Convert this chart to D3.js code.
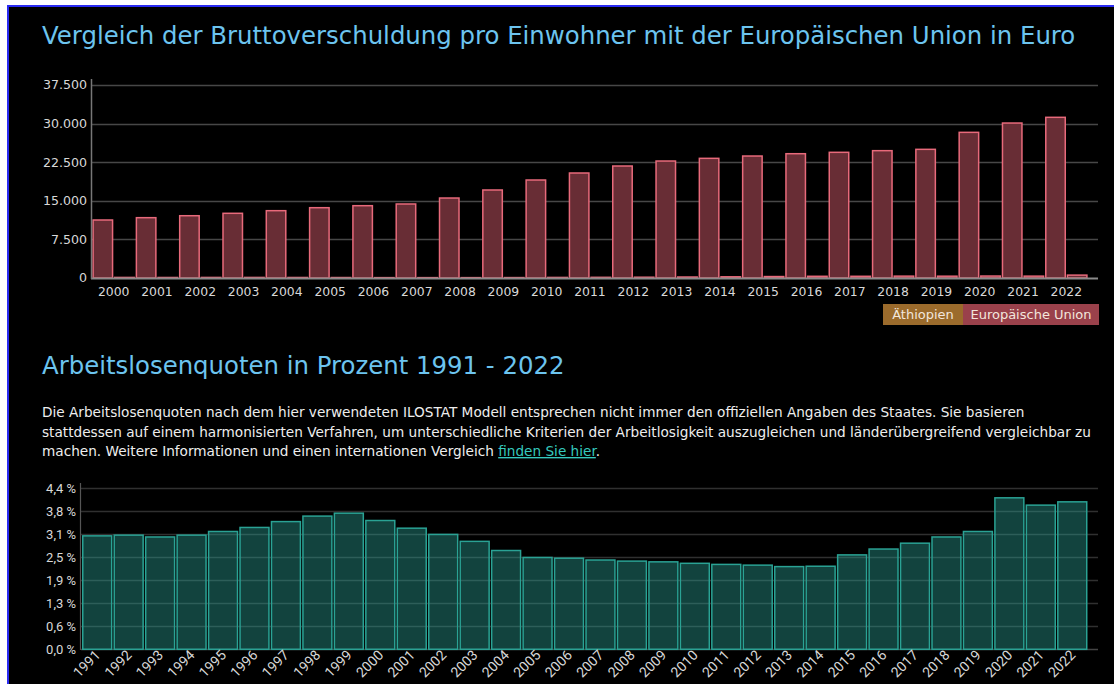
<!DOCTYPE html>
<html><head><meta charset="utf-8">
<script src="https://cdn.jsdelivr.net/npm/d3@7"></script>
<style>
html,body{margin:0;padding:0;background:#fff;overflow:hidden;width:1114px;height:684px;}
#box{position:absolute;left:7px;top:5px;width:1200px;height:800px;background:#000;border-left:2px solid #2a2af2;border-top:2px solid #2a2af2;}
svg{position:absolute;left:0;top:0;}
</style></head><body><div id="box"></div><svg id="c" width="1114" height="684"></svg>
<script>
// ---------- data ----------
const debtYears = ["2000","2001","2002","2003","2004","2005","2006","2007","2008","2009","2010","2011","2012","2013","2014","2015","2016","2017","2018","2019","2020","2021","2022"];
const euDebt = [11270,11720,12100,12570,13080,13660,14050,14380,15540,17100,19040,20400,21760,22730,23250,23700,24150,24420,24740,25000,28300,30110,31220];
const ethDebt = [110,100,110,110,100,90,70,70,70,80,110,130,150,190,230,280,330,330,360,350,380,360,560];
const debtTicks = [0,7500,15000,22500,30000,37500];
const seriesNames = ["Äthiopien","Europäische Union"];

const unempYears = ["1991","1992","1993","1994","1995","1996","1997","1998","1999","2000","2001","2002","2003","2004","2005","2006","2007","2008","2009","2010","2011","2012","2013","2014","2015","2016","2017","2018","2019","2020","2021","2022"];
const unemp = [3.10,3.12,3.07,3.12,3.22,3.33,3.49,3.64,3.72,3.52,3.31,3.14,2.95,2.70,2.51,2.49,2.44,2.41,2.39,2.35,2.32,2.30,2.26,2.27,2.58,2.74,2.90,3.07,3.22,4.14,3.94,4.03];
const unempTicks = [0,0.6286,1.2571,1.8857,2.5143,3.1429,3.7714,4.4];
const unempTickLabels = ["0,0 %","0,6 %","1,3 %","1,9 %","2,5 %","3,1 %","3,8 %","4,4 %"];

const title1 = "Vergleich der Bruttoverschuldung pro Einwohner mit der Europäischen Union in Euro";
const title2 = "Arbeitslosenquoten in Prozent 1991 - 2022";
const paraLines = [
 "Die Arbeitslosenquoten nach dem hier verwendeten ILOSTAT Modell entsprechen nicht immer den offiziellen Angaben des Staates. Sie basieren",
 "stattdessen auf einem harmonisierten Verfahren, um unterschiedliche Kriterien der Arbeitlosigkeit auszugleichen und länderübergreifend vergleichbar zu",
 "machen. Weitere Informationen und einen internationen Vergleich "
];
const linkText = "finden Sie hier";

// ---------- drawing ----------
const svg = d3.select("#c");
const SANS = "'DejaVu Sans', Verdana, sans-serif";
const ROBO = "Roboto, 'Noto Sans', sans-serif";
const loc = d3.formatLocale({decimal:",", thousands:".", grouping:[3], currency:["","€"]});
const fmt = loc.format(",");

svg.append("text").attr("x",42).attr("y",44).attr("fill","#6cc4ef")
  .style("font-family",SANS).style("font-size","24.4px").text(title1);

// top chart
const y1 = d3.scaleLinear().domain([0,37500]).range([278,85]);
const x1 = d3.scaleBand().domain(debtYears).range([92,1088]).padding(0);
const xs = d3.scaleBand().domain(["eu","eth"]).range([0,x1.bandwidth()]).paddingInner(0.1).paddingOuter(0.05);

const g1 = svg.append("g");
g1.selectAll("line.grid").data(debtTicks.filter(d=>d>0)).join("line")
  .attr("x1",91).attr("x2",1098).attr("y1",d=>Math.round(y1(d))+0.5).attr("y2",d=>Math.round(y1(d))+0.5)
  .attr("stroke","#474747").attr("stroke-width",1.5);
g1.selectAll("text.yl").data(debtTicks).join("text")
  .attr("x",87).attr("y",d=>y1(d)).attr("dy","0.35em").attr("text-anchor","end")
  .attr("fill","#d8d8d8").style("font-family",SANS).style("font-size","12.6px").text(d=>fmt(d));

const groups = g1.selectAll("g.grp").data(debtYears).join("g").attr("transform",d=>`translate(${x1(d)},0)`);
groups.append("rect").attr("x",xs("eu")).attr("width",xs.bandwidth())
  .attr("y",(d,i)=>y1(euDebt[i])).attr("height",(d,i)=>y1(0)-y1(euDebt[i]))
  .attr("fill","#682d35").attr("stroke","#e86a7b").attr("stroke-width",1.5);
groups.append("rect").attr("x",xs("eth")).attr("width",xs.bandwidth())
  .attr("y",(d,i)=>y1(ethDebt[i])).attr("height",(d,i)=>y1(0)-y1(ethDebt[i]))
  .attr("fill","#682d35").attr("stroke","#e86a7b").attr("stroke-width",1.5);

g1.append("line").attr("x1",91).attr("x2",1098).attr("y1",278.5).attr("y2",278.5).attr("stroke","#8a8a8a").attr("stroke-width",2);
g1.append("line").attr("x1",91.5).attr("x2",91.5).attr("y1",79).attr("y2",279).attr("stroke","#777").attr("stroke-width",1.5);

g1.selectAll("text.xl").data(debtYears).join("text")
  .attr("x",d=>x1(d)+x1.bandwidth()/2).attr("y",296).attr("text-anchor","middle")
  .attr("fill","#d8d8d8").style("font-family",SANS).style("font-size","12.4px").text(d=>d);

// legend
const leg = [{n:seriesNames[0],x:883,w:80,c:"#9b6b2c"},{n:seriesNames[1],x:963,w:136,c:"#9a414b"}];
leg.forEach(l=>{
  svg.append("rect").attr("x",l.x).attr("y",304).attr("width",l.w).attr("height",21).attr("fill",l.c);
  svg.append("text").attr("x",l.x+l.w/2).attr("y",319).attr("text-anchor","middle").attr("fill","#f2e6dc")
    .style("font-family",SANS).style("font-size","13px").text(l.n);
});

// second title + paragraph
svg.append("text").attr("x",42).attr("y",374).attr("fill","#6cc4ef")
  .style("font-family",SANS).style("font-size","24.4px").text(title2);
const para = svg.append("g").style("font-family",SANS).style("font-size","13.65px").attr("fill","#eeeeee");
paraLines.forEach((t,i)=>{
  const tx = para.append("text").attr("x",42).attr("y",417+i*19.5);
  tx.append("tspan").text(t);
  if(i===paraLines.length-1){
    tx.append("tspan").attr("fill","#35c9bd").style("text-decoration","underline").text(linkText);
    tx.append("tspan").text(".");
  }
});

// bottom chart
const y2 = d3.scaleLinear().domain([0,4.4]).range([649.3,488.3]);
const x2 = d3.scaleBand().domain(unempYears).range([81.5,1088]).paddingInner(0.08).paddingOuter(0.04);
const g2 = svg.append("g");
g2.selectAll("line.grid").data(unempTicks).join("line")
  .attr("x1",81).attr("x2",1098).attr("y1",d=>Math.round(y2(d))+0.5).attr("y2",d=>Math.round(y2(d))+0.5)
  .attr("stroke",d=>d===0?"#444":"#303030").attr("stroke-width",1.5);
g2.selectAll("rect").data(unempYears).join("rect")
  .attr("x",d=>x2(d)).attr("width",x2.bandwidth())
  .attr("y",(d,i)=>y2(unemp[i])).attr("height",(d,i)=>y2(0)-y2(unemp[i]))
  .attr("fill","rgba(44,160,148,0.42)").attr("stroke","#2aa294").attr("stroke-width",1.5);
g2.append("line").attr("x1",80.5).attr("x2",80.5).attr("y1",483).attr("y2",650).attr("stroke","#555").attr("stroke-width",1.2);
g2.selectAll("text.yl").data(unempTicks).join("text")
  .attr("x",76).attr("y",d=>y2(d)).attr("dy","0.35em").attr("text-anchor","end")
  .attr("fill","#d8d8d8").style("font-family",ROBO).style("font-size","13px").text((d,i)=>unempTickLabels[i]);
g2.selectAll("text.xl").data(unempYears).join("text")
  .attr("transform",d=>`translate(${x2(d)+x2.bandwidth()/2+4},${656}) rotate(-45)`)
  .attr("text-anchor","end").attr("fill","#d8d8d8").style("font-family",ROBO).style("font-size","14px").text(d=>d);
</script></body></html>
